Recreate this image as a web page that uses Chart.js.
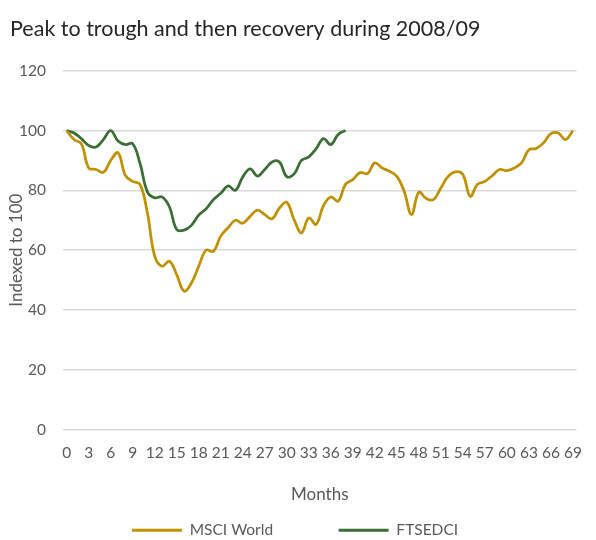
<!DOCTYPE html>
<html>
<head>
<meta charset="utf-8">
<script src="https://cdn.jsdelivr.net/npm/chart.js@4.4.1/dist/chart.umd.min.js"></script>
<style>
  html, body { margin: 0; padding: 0; background: #fff; }
  #wrap { width: 596px; height: 540px; }
</style>
</head>
<body>
<div id="wrap"><canvas id="peakChart"></canvas></div>
<script>
// months since the 2008 peak
const months = [
  0, 1, 2, 3, 4, 5, 6, 7, 8, 9, 10, 11, 12, 13, 14, 15, 16, 17, 18, 19,
  20, 21, 22, 23, 24, 25, 26, 27, 28, 29, 30, 31, 32, 33, 34, 35, 36, 37, 38, 39,
  40, 41, 42, 43, 44, 45, 46, 47, 48, 49, 50, 51, 52, 53, 54, 55, 56, 57, 58, 59,
  60, 61, 62, 63, 64, 65, 66, 67, 68, 69
];

const msciWorld = [
  100, 97, 95.6, 87.5, 87, 86, 90, 92.6, 85, 83,
  82, 72.5, 58, 54.6, 56.3, 51.8, 46.3, 49, 54.6, 60,
  59.6, 64.7, 67.5, 70, 69, 71.3, 73.4, 71.9, 70.5, 74.1,
  76, 70.2, 65.8, 70.8, 68.6, 74.9, 77.8, 76.4, 82, 83.6,
  86, 85.6, 89.2, 87.5, 86.4, 84.7, 79.7, 71.9, 79.4, 77.3,
  76.9, 80.8, 84.7, 86.2, 85.3, 78, 82, 83, 84.9, 87,
  86.6, 87.5, 89.2, 93.6, 94, 95.9, 99, 99.2, 97, 100
];

// FTSEDCI only runs to month 38
const ftsedci = [
  100, 99.2, 97.3, 95, 94.5, 97, 100, 96.5, 95.3, 95.6,
  89, 79.5, 77.5, 77.8, 74.5, 66.9, 66.7, 68.3, 71.7, 73.8,
  76.9, 79, 81.5, 80, 84.5, 87.2, 84.8, 87, 89.5, 89.5,
  84.6, 85.5, 90, 91.2, 93.9, 97.3, 95.3, 98.7, 100
];

const yTicks = [0, 20, 40, 60, 80, 100, 120];

const FONT = "Lato, 'Open Sans', sans-serif";
const TEXT_GREY = "#595959";

const ctx = document.getElementById("peakChart").getContext("2d");

window.peakChart = new Chart(ctx, {
  type: "line",
  data: {
    labels: months,
    datasets: [
      {
        label: "MSCI World",
        data: msciWorld,
        borderColor: "#BF9000",
        backgroundColor: "#BF9000",
        borderWidth: 2.75,
        pointRadius: 0,
        pointStyle: "line",
        tension: 0.4,
      },
      {
        label: "FTSEDCI",
        data: ftsedci,
        borderColor: "#3B6E35",
        backgroundColor: "#3B6E35",
        borderWidth: 2.75,
        pointRadius: 0,
        pointStyle: "line",
        tension: 0.4,
      },
    ],
  },
  options: {
    responsive: true,
    maintainAspectRatio: false,
    animation: false,
    layout: { padding: { left: 10, right: 16, top: 0, bottom: -8 } },
    plugins: {
      title: {
        display: true,
        text: "Peak to trough and then recovery during 2008/09",
        align: "start",
        color: "#262626",
        font: { family: FONT, size: 21.5, weight: "normal" },
        padding: { top: 16, bottom: 29 },
      },
      legend: {
        position: "bottom",
        labels: {
          usePointStyle: true,
          pointStyleWidth: 50,
          padding: 10,
          color: TEXT_GREY,
          font: { family: FONT, size: 15.5 },
          generateLabels: (chart) =>
            chart.data.datasets.map((ds, i) => ({
              // trailing spaces widen the gap between the two entries
              text: i === 0 ? ds.label + "              " : ds.label,
              strokeStyle: ds.borderColor,
              fillStyle: ds.borderColor,
              lineWidth: 3,
              pointStyle: "line",
              datasetIndex: i,
              fontColor: TEXT_GREY,
            })),
        },
      },
      tooltip: { enabled: false },
    },
    scales: {
      x: {
        type: "category",
        offset: true,
        grid: { display: false, drawTicks: false },
        border: { display: false },
        ticks: {
          autoSkip: false,
          maxRotation: 0,
          padding: 14,
          color: TEXT_GREY,
          font: { family: FONT, size: 15.5 },
          callback: (value, index) => (index % 3 === 0 ? months[index] : ""),
        },
        title: {
          display: true,
          text: "Months",
          color: TEXT_GREY,
          font: { family: FONT, size: 17 },
          padding: { top: 4, bottom: 8 },
        },
        afterFit: (scale) => {
          scale.height = 83;
        },
      },
      y: {
        min: 0,
        max: 120,
        afterBuildTicks: (scale) => {
          scale.ticks = yTicks.map((v) => ({ value: v }));
        },
        grid: {
          color: "#D9D9D9",
          lineWidth: 1.5,
          drawTicks: false,
        },
        border: { display: false },
        ticks: {
          padding: 17,
          color: TEXT_GREY,
          font: { family: FONT, size: 15.5 },
        },
        title: {
          display: true,
          text: "Indexed to 100",
          color: TEXT_GREY,
          font: { family: FONT, size: 17 },
          padding: { top: -4, bottom: 0 },
        },
        afterFit: (scale) => {
          scale.width = 53;
        },
      },
    },
  },
});
</script>
</body>
</html>
